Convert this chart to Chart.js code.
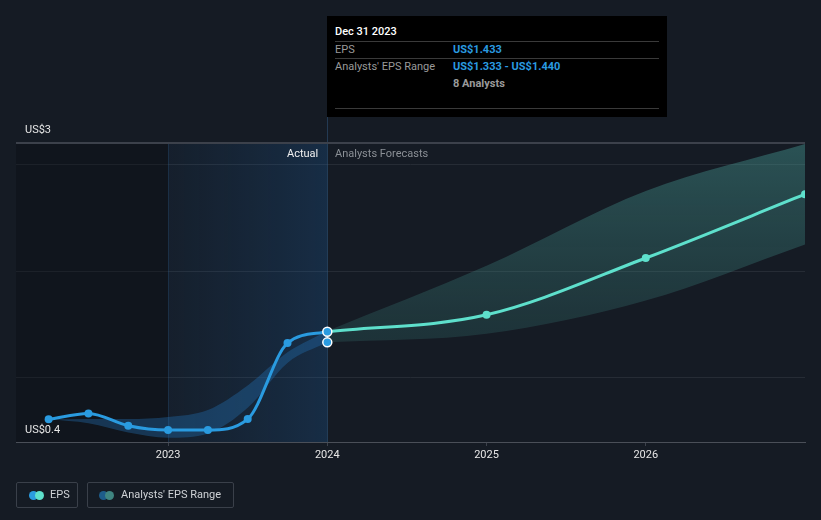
<!DOCTYPE html>
<html>
<head>
<meta charset="utf-8">
<script src="https://cdn.jsdelivr.net/npm/chart.js@4.4.1/dist/chart.umd.min.js"></script>
<style>
  html, body { margin: 0; padding: 0; background: #151b24; }
  body { width: 821px; height: 520px; position: relative; overflow: hidden; font-family: Roboto, "Noto Sans", Arial, sans-serif; }
  #wrap { position: absolute; left: 0; top: 0; width: 821px; height: 520px; }
  .lbl { position: absolute; font-size: 11px; color: #e6e6e6; white-space: nowrap; }
  #tip { position: absolute; left: 327px; top: 16px; width: 340px; height: 101px; background: #000; }
  #tip .t { position: absolute; font-size: 11px; white-space: nowrap; }
  #tip .hr { position: absolute; left: 8px; width: 324px; height: 1px; background: #3a3a3a; }
  .leg { position: absolute; top: 482px; height: 26px; border: 1px solid #3a404a; border-radius: 2px; box-sizing: border-box; font-size: 11px; color: #cfd2d6; line-height: 24px; }
  .dot { position: absolute; top: 8px; width: 9px; height: 9px; border-radius: 50%; }
</style>
</head>
<body>
<div id="wrap"><canvas id="c" width="821" height="520"></canvas></div>

<div class="lbl" style="left:25px; top:123px;">US$3</div>
<div class="lbl" style="left:25px; top:423px;">US$0.4</div>
<div class="lbl" style="left:287px; top:147px; color:#f0f0f0;">Actual</div>
<div class="lbl" style="left:335px; top:147px; color:#8b9096;">Analysts Forecasts</div>

<div id="tip">
  <div class="t" style="left:8px; top:9px; color:#fff; font-weight:500;">Dec 31 2023</div>
  <div class="hr" style="top:25px;"></div>
  <div class="t" style="left:8px; top:27px; color:#9a9a9a;">EPS</div>
  <div class="t" style="left:126px; top:27px; color:#2a9be0; font-weight:bold;">US$1.433</div>
  <div class="hr" style="top:42px;"></div>
  <div class="t" style="left:8px; top:44px; color:#9a9a9a;">Analysts' EPS Range</div>
  <div class="t" style="left:126px; top:44px; color:#2a9be0; font-weight:bold;">US$1.333 - US$1.440</div>
  <div class="t" style="left:126px; top:61px; color:#9a9a9a; font-weight:bold;">8 Analysts</div>
  <div class="hr" style="top:92px;"></div>
</div>

<div class="leg" style="left:16px; width:62px;">
  <span class="dot" style="left:12px; background:#2a9be0;"></span>
  <span class="dot" style="left:18px; background:#5ee0cc;"></span>
  <span style="position:absolute; left:33px;">EPS</span>
</div>
<div class="leg" style="left:87px; width:147px;">
  <span class="dot" style="left:11px; background:#1d5c8a;"></span>
  <span class="dot" style="left:17px; background:#3f8581;"></span>
  <span style="position:absolute; left:33px;">Analysts' EPS Range</span>
</div>

<script>
// ---- data ----
const actualDates = [2022.25, 2022.5, 2022.75, 2023.0, 2023.25, 2023.5, 2023.75, 2024.0];
const actualEps   = [0.612, 0.668, 0.552, 0.512, 0.512, 0.615, 1.326, 1.433];
const pastRangeHigh = [0.612, 0.615, 0.616, 0.635, 0.70, 0.93, 1.24, 1.440];
const pastRangeLow  = [0.612, 0.575, 0.49, 0.44, 0.48, 0.72, 1.14, 1.333];
const forecastDates = [2024.0, 2025.0, 2026.0, 2027.0];
const forecastEps   = [1.433, 1.591, 2.123, 2.72];
const forecastHigh  = [1.440, 2.05, 2.75, 3.19];
const forecastLow   = [1.333, 1.414, 1.725, 2.25];
const yGridValues = [1, 2, 3];
const xTickYears = [2023, 2024, 2025, 2026];
const markerDate = 2024.0;
const markerValues = [1.433, 1.333];

const pts = (xs, ys) => xs.map((x, i) => ({ x, y: ys[i] }));

const bgPlugin = {
  id: 'bg',
  beforeDatasetsDraw(chart) {
    const { ctx, chartArea: a, scales: { x } } = chart;
    const x23 = x.getPixelForValue(2023), x24 = x.getPixelForValue(2024);
    ctx.save();
    ctx.fillStyle = 'rgba(8,10,14,0.3)';
    ctx.fillRect(a.left, a.top, x23 - a.left, a.bottom - a.top);
    const g = ctx.createLinearGradient(x23, 0, x24, 0);
    g.addColorStop(0, 'rgba(30,90,150,0.08)');
    g.addColorStop(1, 'rgba(30,100,170,0.25)');
    ctx.fillStyle = g;
    ctx.fillRect(x23, a.top, x24 - x23, a.bottom - a.top);
    ctx.fillStyle = 'rgba(40,80,120,0.35)';
    ctx.fillRect(Math.round(x23), a.top, 1, a.bottom - a.top);
    ctx.fillStyle = 'rgba(50,90,130,0.5)';
    ctx.fillRect(Math.round(x24), 117, 1, a.bottom - 117);
    ctx.fillStyle = '#3c414b';
    ctx.fillRect(a.left, a.top - 1, a.right - a.left, 2);
    ctx.restore();
  }
};

function tealGrad(ctx, chart) {
  const a = chart.chartArea;
  if (!a) return 'rgba(60,140,135,0.3)';
  const g = ctx.createLinearGradient(0, a.top, 0, a.bottom);
  g.addColorStop(0, 'rgba(70,150,145,0.45)');
  g.addColorStop(0.6, 'rgba(60,130,125,0.25)');
  g.addColorStop(1, 'rgba(60,130,125,0.15)');
  return g;
}

new Chart(document.getElementById('c'), {
  type: 'line',
  data: {
    datasets: [
      { data: pts(actualDates, pastRangeHigh), borderWidth: 0, pointRadius: 0, fill: '+1',
        backgroundColor: 'rgba(35,110,175,0.38)', cubicInterpolationMode: 'monotone', order: 5 },
      { data: pts(actualDates, pastRangeLow), borderWidth: 0, pointRadius: 0, fill: false,
        cubicInterpolationMode: 'monotone', order: 5 },
      { data: pts(forecastDates, forecastHigh), borderWidth: 0, pointRadius: 0, fill: '+1',
        backgroundColor: (c) => tealGrad(c.chart.ctx, c.chart), cubicInterpolationMode: 'monotone', order: 5 },
      { data: pts(forecastDates, forecastLow), borderWidth: 0, pointRadius: 0, fill: false,
        cubicInterpolationMode: 'monotone', order: 5 },
      { data: pts(forecastDates, forecastEps), borderColor: '#5ee0cc', backgroundColor: '#5ee0cc',
        borderWidth: 3, pointRadius: [0, 4, 4, 4], pointBorderWidth: 0, fill: false,
        cubicInterpolationMode: 'monotone', order: 3 },
      { data: pts(actualDates, actualEps), borderColor: '#2a9be0', backgroundColor: '#2a9be0',
        borderWidth: 3, pointRadius: [4, 4, 4, 4, 4, 4, 4, 0], pointBorderWidth: 0, fill: false,
        cubicInterpolationMode: 'monotone', order: 2 },
      { data: markerValues.map(v => ({ x: markerDate, y: v })), showLine: false,
        pointRadius: 4.5, pointBorderWidth: 1.5, pointBorderColor: '#ffffff', pointBackgroundColor: '#2a9be0', order: 1 }
    ]
  },
  options: {
    responsive: false,
    animation: false,
    events: [],
    layout: { padding: { left: 16, right: 16, top: 143, bottom: 54 } },
    plugins: { legend: { display: false }, tooltip: { enabled: false } },
    scales: {
      x: {
        type: 'linear', min: 2022.045, max: 2027.0,
        afterBuildTicks: (s) => { s.ticks = xTickYears.map(v => ({ value: v })); },
        afterFit: (s) => { s.height = 24; },
        grid: { display: true, drawOnChartArea: false, tickLength: 4, color: '#3c414b' },
        border: { display: true, color: '#4a4f58', width: 1 },
        ticks: { color: '#e6e6e6', font: { family: 'Roboto', size: 11 }, padding: 3, maxRotation: 0,
                 callback: (v) => String(v) }
      },
      y: {
        type: 'linear', min: 0.4, max: 3.2,
        afterBuildTicks: (s) => { s.ticks = yGridValues.map(v => ({ value: v })); },
        afterFit: (s) => { s.width = 0; },
        grid: { color: '#262c35', drawTicks: false },
        border: { display: false },
        ticks: { display: false }
      }
    }
  },
  plugins: [bgPlugin]
});
</script>
</body>
</html>
